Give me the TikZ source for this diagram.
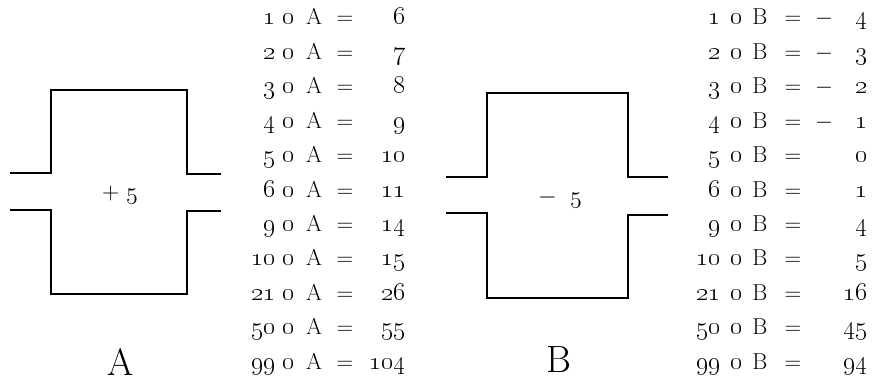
\RequirePackage{fix-cm}
\documentclass[tikz,border=0pt]{standalone}
\begin{document}
\begin{tikzpicture}[x=1pt,y=-1pt,
  wall/.style={line width=1.4pt, line join=miter},
  row/.style={font=\fontsize{23}{23}\selectfont, inner sep=0pt},
  num/.style={font=\fontsize{26}{26}\selectfont, inner sep=0pt},
  big/.style={font=\fontsize{38}{38}\selectfont, inner sep=0pt},
  mid/.style={font=\fontsize{24}{24}\selectfont, inner sep=0pt}]
\useasboundingbox (0,0) rectangle (883,382);
% shape A
\draw[wall] (10,173) -- (51,173) -- (51,90) -- (187,90) -- (187,174) -- (221,174);
\draw[wall] (10,210) -- (51,210) -- (51,294) -- (187,294) -- (187,211) -- (221,211);
\node[mid, anchor=base] (plus) at (120,200) {$+\;\oldstylenums{5}$};
\node[big, anchor=base] (labA) at (121,375) {A};
% shape B
\draw[wall] (446,177) -- (487,177) -- (487,93) -- (628,93) -- (628,177) -- (668,177);
\draw[wall] (446,213) -- (487,213) -- (487,298) -- (628,298) -- (628,215) -- (668,215);
\node[mid, anchor=base] (minus) at (560,204) {$-\;\;\oldstylenums{5}$};
\node[big, anchor=base] (labB) at (559,372) {B};
% table A
\foreach \n/\r [count=\i from 0] in {1/6,2/7,3/8,4/9,5/10,6/11,9/14,10/15,21/26,50/55,99/104}{
  \node[num, anchor=base east] (al\i) at (276,{25+34.4*\i}) {\oldstylenums{\n}};
  \node[num, anchor=base] (ao\i) at (289,{25+34.4*\i}) {\oldstylenums{0}};
  \node[row, anchor=base] (aa\i) at (314,{25+34.4*\i}) {A};
  \node[row, anchor=base] (ae\i) at (345,{25+34.4*\i}) {$=$};
  \node[num, anchor=base east] (ar\i) at (406,{25+34.4*\i}) {\oldstylenums{\r}};
}
% table B
\foreach \n/\r [count=\i from 0] in {1/4,2/3,3/2,4/1,5/0,6/1,9/4,10/5,21/16,50/45,99/94}{
  \node[num, anchor=base east] (bl\i) at (721,{25+34.4*\i}) {\oldstylenums{\n}};
  \node[num, anchor=base] (bo\i) at (737,{25+34.4*\i}) {\oldstylenums{0}};
  \node[row, anchor=base] (bb\i) at (760,{25+34.4*\i}) {B};
  \node[row, anchor=base] (be\i) at (793,{25+34.4*\i}) {$=$};
  \node[num, anchor=base east] (br\i) at (868,{25+34.4*\i}) {\oldstylenums{\r}};
}
\foreach \i in {0,1,2,3}{
  \node[row, anchor=base] (bs\i) at (824,{25+34.4*\i}) {$-$};
}
\end{tikzpicture}
\end{document}
